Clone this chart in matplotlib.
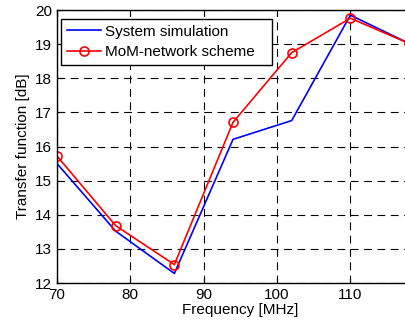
import matplotlib
matplotlib.use("Agg")
import matplotlib.pyplot as plt

freq = [70, 78, 86, 94, 102, 110, 118]
system_sim = [15.50, 13.52, 12.28, 16.21, 16.76, 19.85, 19.02]
mom_network = [15.72, 13.68, 12.54, 16.71, 18.75, 19.76, 19.02]
xticks = [70, 80, 90, 100, 110]
yticks = [12, 13, 14, 15, 16, 17, 18, 19, 20]

plt.rcParams['font.family'] = ['Liberation Sans', 'DejaVu Sans']
fig = plt.figure(figsize=(4.06, 3.25), dpi=100)
ax = fig.add_axes([0.1404, 0.1292, 0.9032, 0.84])

ax.plot(freq, system_sim, color='blue', lw=1.2, label='System simulation')
ax.plot(freq, mom_network, color='red', lw=1.2, marker='o', ms=6.5,
        mfc='none', mec='red', mew=1.2, label='MoM-network scheme')

ax.set_xlim(70, 120)
ax.set_ylim(12, 20)
ax.set_xticks(xticks)
ax.set_yticks(yticks)
ax.grid(True, color='black', linestyle=(0, (7, 5)), lw=0.8)
ax.tick_params(direction='in', labelsize=11, length=4, top=True, right=True)
for s in ax.spines.values():
    s.set_linewidth(1.0)
ax.set_xlabel('Frequency [MHz]', fontsize=11, labelpad=1)
ax.set_ylabel('Transfer function [dB]', fontsize=11, labelpad=4)

leg = ax.legend(loc='upper left', bbox_to_anchor=(0.0109, 0.5, 0.5754, 0.467),
                mode='expand', borderaxespad=0,
                fontsize=11, fancybox=False, framealpha=1,
                edgecolor='black', borderpad=0.38, labelspacing=0.42,
                handlelength=2.25, handletextpad=0.26)
leg.get_frame().set_linewidth(1.0)

fig.savefig('out.png', dpi=100)
